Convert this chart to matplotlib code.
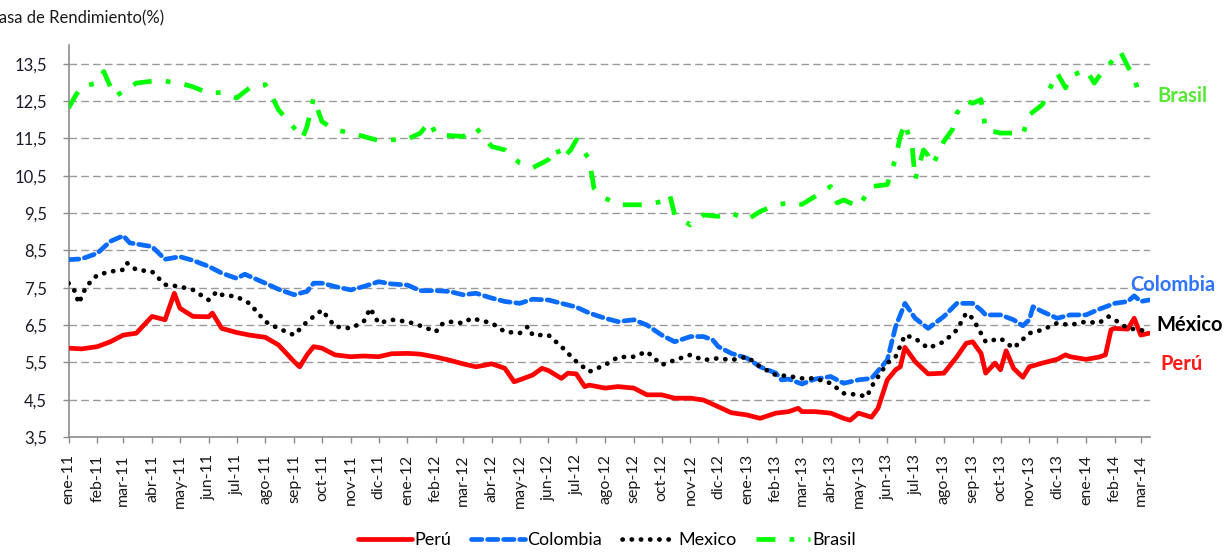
import numpy as np
import pandas as pd
import matplotlib
matplotlib.use("Agg")
import matplotlib.pyplot as plt

plt.rcParams['font.family'] = ['Lato', 'DejaVu Sans']

# ---------------- data ----------------
peru_dates = [
    '2011-01-01', '2011-01-15', '2011-02-01', '2011-02-15', '2011-03-01', '2011-03-15',
    '2011-04-01', '2011-04-15', '2011-04-25', '2011-05-01', '2011-05-15', '2011-06-01',
    '2011-06-05', '2011-06-15', '2011-07-01', '2011-07-15', '2011-08-01', '2011-08-15',
    '2011-09-01', '2011-09-07', '2011-09-15', '2011-09-22', '2011-10-01', '2011-10-15',
    '2011-11-01', '2011-11-15', '2011-12-01', '2011-12-15', '2012-01-01', '2012-01-15',
    '2012-02-01', '2012-02-15', '2012-03-01', '2012-03-15', '2012-04-01', '2012-04-15',
    '2012-04-25', '2012-05-01', '2012-05-15', '2012-05-25', '2012-06-01', '2012-06-15',
    '2012-06-22', '2012-07-01', '2012-07-10', '2012-07-15', '2012-08-01', '2012-08-15',
    '2012-09-01', '2012-09-15', '2012-10-01', '2012-10-15', '2012-11-01', '2012-11-15',
    '2012-12-01', '2012-12-15', '2013-01-01', '2013-01-15', '2013-02-01', '2013-02-15',
    '2013-02-25', '2013-03-01', '2013-03-15', '2013-04-01', '2013-04-15', '2013-04-22',
    '2013-05-01', '2013-05-15', '2013-05-22', '2013-06-01', '2013-06-10', '2013-06-15',
    '2013-06-20', '2013-07-01', '2013-07-15', '2013-08-01', '2013-08-15', '2013-08-25',
    '2013-09-01', '2013-09-10', '2013-09-15', '2013-09-25', '2013-10-01', '2013-10-07',
    '2013-10-15', '2013-10-25', '2013-11-01', '2013-11-15', '2013-12-01', '2013-12-10',
    '2013-12-15', '2014-01-01', '2014-01-15', '2014-01-22', '2014-01-28', '2014-02-01',
    '2014-02-15', '2014-02-22', '2014-03-01', '2014-03-10']
peru = [
    5.88, 5.86, 5.92, 6.05, 6.23, 6.28,
    6.73, 6.64, 7.35, 6.95, 6.73, 6.72,
    6.82, 6.41, 6.30, 6.23, 6.17, 5.97,
    5.52, 5.38, 5.70, 5.92, 5.88, 5.70,
    5.65, 5.67, 5.65, 5.73, 5.74, 5.72,
    5.64, 5.56, 5.46, 5.38, 5.46, 5.34,
    4.98, 5.03, 5.16, 5.34, 5.28, 5.07,
    5.21, 5.19, 4.85, 4.89, 4.81, 4.85,
    4.81, 4.63, 4.63, 4.54, 4.54, 4.49,
    4.31, 4.15, 4.09, 4.00, 4.14, 4.18,
    4.27, 4.18, 4.18, 4.14, 4.00, 3.95,
    4.14, 4.03, 4.27, 5.03, 5.30, 5.38,
    5.90, 5.52, 5.19, 5.21, 5.65, 6.01,
    6.05, 5.74, 5.21, 5.48, 5.30, 5.81,
    5.34, 5.10, 5.38, 5.48, 5.58, 5.70,
    5.65, 5.58, 5.64, 5.70, 6.37, 6.41,
    6.39, 6.68, 6.23, 6.28]

colombia_dates = [
    '2011-01-01', '2011-01-15', '2011-02-01', '2011-02-15', '2011-03-01', '2011-03-08',
    '2011-03-15', '2011-04-01', '2011-04-15', '2011-05-01', '2011-05-15', '2011-06-01',
    '2011-06-15', '2011-07-01', '2011-07-10', '2011-08-01', '2011-08-15', '2011-09-01',
    '2011-09-15', '2011-09-22', '2011-10-01', '2011-10-15', '2011-11-01', '2011-11-15',
    '2011-12-01', '2011-12-15', '2012-01-01', '2012-01-15', '2012-02-01', '2012-02-15',
    '2012-03-01', '2012-03-15', '2012-04-01', '2012-04-15', '2012-05-01', '2012-05-15',
    '2012-06-01', '2012-06-15', '2012-07-01', '2012-07-15', '2012-08-01', '2012-08-15',
    '2012-09-01', '2012-09-15', '2012-10-01', '2012-10-15', '2012-11-01', '2012-11-15',
    '2012-11-25', '2012-12-01', '2012-12-15', '2013-01-01', '2013-01-15', '2013-02-01',
    '2013-02-07', '2013-02-15', '2013-03-01', '2013-03-15', '2013-04-01', '2013-04-15',
    '2013-05-01', '2013-05-15', '2013-06-01', '2013-06-10', '2013-06-20', '2013-07-01',
    '2013-07-15', '2013-08-01', '2013-08-15', '2013-09-01', '2013-09-10', '2013-09-15',
    '2013-10-01', '2013-10-15', '2013-10-25', '2013-11-01', '2013-11-05', '2013-11-15',
    '2013-12-01', '2013-12-15', '2014-01-01', '2014-01-15', '2014-02-01', '2014-02-15',
    '2014-02-22', '2014-03-01', '2014-03-10']
colombia = [
    8.25, 8.27, 8.42, 8.74, 8.89, 8.70,
    8.67, 8.60, 8.26, 8.33, 8.23, 8.07,
    7.89, 7.75, 7.86, 7.62, 7.46, 7.31,
    7.40, 7.62, 7.62, 7.53, 7.44, 7.53,
    7.66, 7.60, 7.57, 7.42, 7.42, 7.40,
    7.31, 7.35, 7.22, 7.13, 7.08, 7.19,
    7.17, 7.08, 6.98, 6.82, 6.68, 6.59,
    6.64, 6.50, 6.23, 6.05, 6.19, 6.19,
    6.10, 5.92, 5.74, 5.61, 5.38, 5.21,
    5.03, 5.05, 4.92, 5.05, 5.12, 4.94,
    5.03, 5.07, 5.56, 6.46, 7.08, 6.68,
    6.41, 6.73, 7.08, 7.08, 6.90, 6.77,
    6.77, 6.64, 6.48, 6.64, 6.99, 6.86,
    6.68, 6.77, 6.77, 6.92, 7.08, 7.13,
    7.28, 7.13, 7.17]

mexico_dates = [
    '2011-01-01', '2011-01-08', '2011-01-12', '2011-01-20', '2011-02-01', '2011-02-15',
    '2011-03-01', '2011-03-05', '2011-03-15', '2011-04-01', '2011-04-15', '2011-05-01',
    '2011-05-15', '2011-06-01', '2011-06-10', '2011-06-15', '2011-07-01', '2011-07-15',
    '2011-08-01', '2011-08-15', '2011-09-01', '2011-09-10', '2011-09-15', '2011-10-01',
    '2011-10-15', '2011-11-01', '2011-11-15', '2011-11-22', '2011-12-01', '2011-12-15',
    '2012-01-01', '2012-01-15', '2012-02-01', '2012-02-05', '2012-02-15', '2012-03-01',
    '2012-03-10', '2012-04-01', '2012-04-15', '2012-05-01', '2012-05-10', '2012-05-15',
    '2012-06-01', '2012-06-15', '2012-07-01', '2012-07-15', '2012-08-01', '2012-08-15',
    '2012-09-01', '2012-09-15', '2012-10-01', '2012-10-15', '2012-11-01', '2012-11-15',
    '2012-12-01', '2012-12-15', '2013-01-01', '2013-01-15', '2013-02-01', '2013-02-15',
    '2013-03-01', '2013-03-15', '2013-04-01', '2013-04-15', '2013-05-01', '2013-05-10',
    '2013-05-15', '2013-06-01', '2013-06-10', '2013-06-20', '2013-07-01', '2013-07-15',
    '2013-08-01', '2013-08-15', '2013-08-25', '2013-09-01', '2013-09-15', '2013-10-01',
    '2013-10-15', '2013-11-01', '2013-11-15', '2013-12-01', '2013-12-15', '2014-01-01',
    '2014-01-15', '2014-01-25', '2014-02-01', '2014-02-15', '2014-03-01', '2014-03-10']
mexico = [
    7.62, 7.40, 7.08, 7.53, 7.84, 7.93,
    7.98, 8.16, 7.98, 7.93, 7.58, 7.53,
    7.44, 7.17, 7.40, 7.31, 7.26, 7.08,
    6.59, 6.41, 6.23, 6.46, 6.59, 6.90,
    6.46, 6.41, 6.59, 6.95, 6.55, 6.64,
    6.59, 6.48, 6.32, 6.50, 6.59, 6.55,
    6.68, 6.55, 6.32, 6.28, 6.46, 6.23,
    6.23, 5.92, 5.52, 5.25, 5.43, 5.64,
    5.65, 5.79, 5.43, 5.56, 5.70, 5.56,
    5.61, 5.56, 5.65, 5.38, 5.16, 5.13,
    5.07, 5.07, 4.94, 4.67, 4.63, 4.58,
    4.85, 5.48, 5.65, 6.23, 6.14, 5.88,
    6.05, 6.37, 6.82, 6.68, 6.05, 6.14,
    5.88, 6.28, 6.37, 6.55, 6.50, 6.59,
    6.55, 6.73, 6.64, 6.41, 6.37, 6.28]

brasil_dates = [
    '2011-01-01', '2011-01-08', '2011-01-15', '2011-02-01', '2011-02-08', '2011-02-15',
    '2011-02-20', '2011-03-01', '2011-03-15', '2011-04-01', '2011-04-15', '2011-05-01',
    '2011-05-15', '2011-06-01', '2011-06-15', '2011-07-01', '2011-07-15', '2011-08-01',
    '2011-08-10', '2011-08-15', '2011-09-01', '2011-09-10', '2011-09-15', '2011-09-22',
    '2011-10-01', '2011-10-15', '2011-11-01', '2011-11-15', '2011-12-01', '2011-12-15',
    '2012-01-01', '2012-01-15', '2012-01-25', '2012-02-01', '2012-03-01', '2012-03-15',
    '2012-04-01', '2012-04-15', '2012-05-01', '2012-05-15', '2012-06-01', '2012-06-10',
    '2012-06-15', '2012-06-25', '2012-07-01', '2012-07-15', '2012-07-20', '2012-08-01',
    '2012-08-15', '2012-09-01', '2012-09-15', '2012-10-01', '2012-10-05', '2012-10-10',
    '2012-10-15', '2012-11-01', '2012-11-15', '2012-12-01', '2012-12-15', '2013-01-01',
    '2013-01-15', '2013-02-01', '2013-02-15', '2013-03-01', '2013-03-15', '2013-04-01',
    '2013-04-08', '2013-04-15', '2013-05-01', '2013-05-15', '2013-06-01', '2013-06-10',
    '2013-06-15', '2013-06-20', '2013-06-28', '2013-07-01', '2013-07-10', '2013-07-15',
    '2013-07-20', '2013-08-01', '2013-08-10', '2013-08-15', '2013-08-25', '2013-09-01',
    '2013-09-10', '2013-09-15', '2013-10-01', '2013-10-15', '2013-10-25', '2013-11-01',
    '2013-11-15', '2013-12-01', '2013-12-10', '2013-12-15', '2014-01-01', '2014-01-10',
    '2014-01-15', '2014-02-01', '2014-02-07', '2014-02-15', '2014-02-22', '2014-03-01']
brasil = [
    12.31, 12.62, 12.89, 12.98, 13.29, 12.89,
    12.62, 12.76, 12.98, 13.03, 13.03, 12.98,
    12.88, 12.71, 12.73, 12.58, 12.85, 12.94,
    12.53, 12.27, 11.78, 11.50, 11.82, 12.58,
    11.95, 11.73, 11.64, 11.55, 11.44, 11.46,
    11.48, 11.64, 11.95, 11.60, 11.55, 11.78,
    11.28, 11.19, 10.84, 10.71, 10.93, 11.24,
    10.93, 11.19, 11.46, 10.93, 10.17, 9.90,
    9.72, 9.72, 9.72, 9.81, 9.99, 9.95,
    9.45, 9.18, 9.45, 9.41, 9.50, 9.32,
    9.54, 9.72, 9.77, 9.73, 9.94, 10.21,
    9.77, 9.85, 9.67, 10.21, 10.26, 10.97,
    11.55, 11.91, 11.24, 10.39, 11.19, 11.04,
    10.79, 11.42, 11.73, 12.18, 12.50, 12.44,
    12.54, 11.73, 11.64, 11.64, 11.60, 12.13,
    12.40, 13.25, 12.85, 13.16, 13.34, 12.98,
    13.16, 13.65, 13.83, 13.43, 13.12, 12.53]

month_names = ['ene', 'feb', 'mar', 'abr', 'may', 'jun',
               'jul', 'ago', 'sep', 'oct', 'nov', 'dic']
y_ticks = [3.5, 4.5, 5.5, 6.5, 7.5, 8.5, 9.5, 10.5, 11.5, 12.5, 13.5]

# ---------------- figure ----------------
W, H = 1230, 556
fig = plt.figure(figsize=(W / 100, H / 100), dpi=100)
ax = fig.add_axes([68.5 / W, 1 - 437 / H, (1150 - 68.5) / W, (437 - 45) / H])

lw = 3.4
ax.plot(pd.to_datetime(peru_dates), peru, color='#FF0000', lw=lw,
        solid_capstyle='round', solid_joinstyle='round', label='Perú', zorder=3)
ax.plot(pd.to_datetime(colombia_dates), colombia, color='#0A6CFF', lw=lw,
        linestyle=(0, (2.2, 1.2)), dash_capstyle='round', label='Colombia', zorder=4)
ax.plot(pd.to_datetime(mexico_dates), mexico, color='#000000', lw=lw,
        linestyle=(0, (0.05, 1.9)), dash_capstyle='round', label='Mexico', zorder=5)
ax.plot(pd.to_datetime(brasil_dates), brasil, color='#00FF00', lw=lw,
        linestyle=(0, (4, 3, 1, 3)), dash_capstyle='butt', label='Brasil', zorder=6)

ax.set_xlim(pd.Timestamp('2011-01-01'), pd.Timestamp('2014-03-11'))
ax.set_ylim(3.5, 14.0)

ticks = pd.date_range('2011-01-01', '2014-03-01', freq='MS')
ax.set_xticks(ticks)
ax.set_xticklabels([f"{month_names[t.month - 1]}-{t.year % 100:02d}" for t in ticks],
                   rotation=90, fontsize=11.5, color='#1a1a1a')
ax.set_yticks(y_ticks)
ax.set_yticklabels([f"{v:.1f}".replace('.', ',') for v in y_ticks],
                   fontsize=12, color='#1a1a2a')

ax.grid(axis='y', color='#9a9a9a', lw=1.0, linestyle=(0, (5.5, 3)))
ax.grid(axis='x', visible=False)
ax.set_axisbelow(True)

for s in ['top', 'right']:
    ax.spines[s].set_visible(False)
for s in ['left', 'bottom']:
    ax.spines[s].set_color('#8c8c8c')
    ax.spines[s].set_linewidth(1.2)
ax.tick_params(axis='both', direction='out', length=4.5, width=1.0, color='#8c8c8c')
ax.tick_params(axis='x', pad=8)
ax.tick_params(axis='y', pad=11)

# axis title, clipped at the left edge like the original
fig.text(-11 / W, 1 - 18 / H, 'Tasa de Rendimiento(%)', fontsize=12,
         color='#1a1a1a', ha='left', va='center')

# series labels on the right
fig.text(1157 / W, 1 - 96 / H, 'Brasil', color='#55E835', fontsize=14.5,
         fontweight='bold', ha='left', va='center')
fig.text(1130 / W, 1 - 285 / H, 'Colombia', color='#2F74FF', fontsize=14.5,
         fontweight='bold', ha='left', va='center')
fig.text(1156 / W, 1 - 325 / H, 'México', color='#000000', fontsize=14.5,
         fontweight='bold', ha='left', va='center')
fig.text(1160 / W, 1 - 364 / H, 'Perú', color='#FF1A1A', fontsize=14.5,
         fontweight='bold', ha='left', va='center')

fig.legend(loc='center', bbox_to_anchor=(607 / W, 1 - 540 / H), ncol=4,
           frameon=False, fontsize=13, handlelength=3.0, handletextpad=0.12,
           columnspacing=1.1)

fig.savefig('out.png', dpi=100)
